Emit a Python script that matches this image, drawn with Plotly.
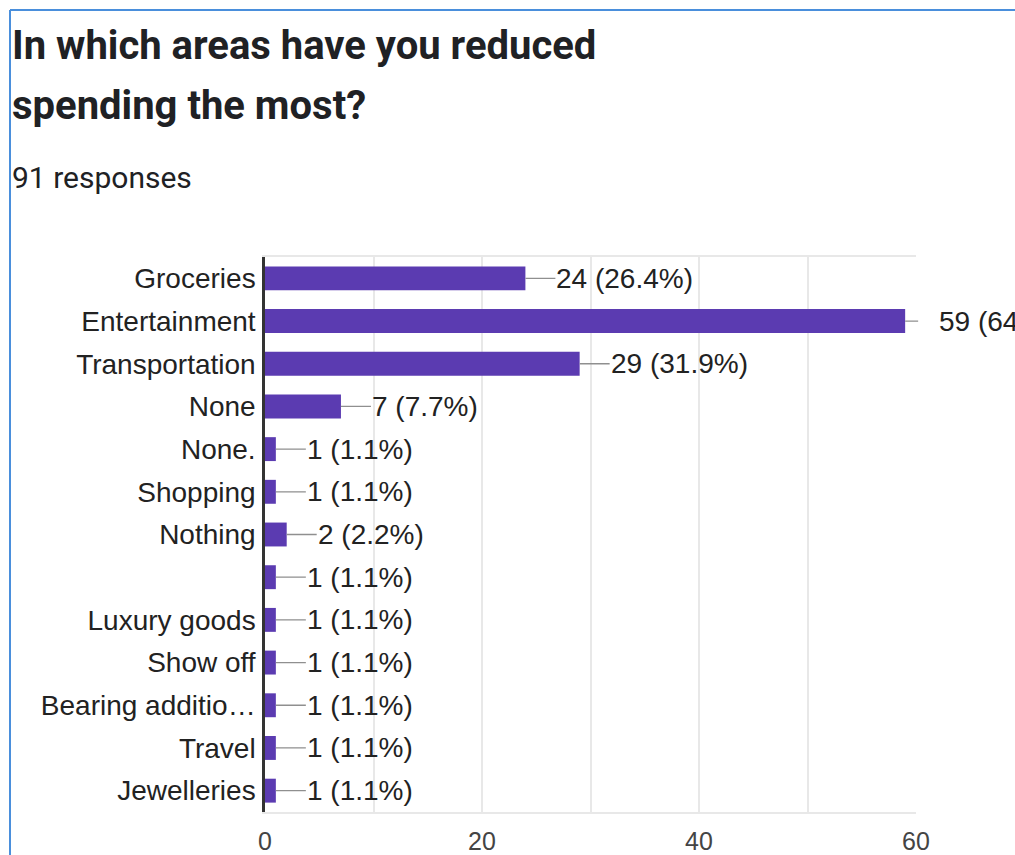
import plotly.graph_objects as go

categories = ["Groceries", "Entertainment", "Transportation", "None", "None.", "Shopping",
              "Nothing", " ", "Luxury goods", "Show off", "Bearing additio…", "Travel", "Jewelleries"]
counts = [24, 59, 29, 7, 1, 1, 2, 1, 1, 1, 1, 1, 1]
total_responses = 91
x_ticks = [0, 20, 40, 60]

title_lines = ["In which areas have you reduced", "spending the most?"]
subtitle_text = f"{total_responses} responses"

W, H = 1015, 855
L, R, T, B = 265, 99, 257, 43
PW, PH = W - L - R, H - T - B


def px_x(px):
    return (px - L) / PW


def px_y(py):
    return (H - B - py) / PH


BAR = "#5b3bb1"
LABEL_FONT = "Liberation Sans, Arial, sans-serif"

fig = go.Figure()
fig.add_trace(go.Bar(
    x=counts, y=categories, orientation="h",
    marker=dict(color=BAR, line=dict(width=0)),
    width=0.56, hoverinfo="skip",
))

max_v = max(counts)
for c, v in zip(categories, counts):
    pct = v / total_responses * 100
    is_max = v == max_v
    fig.add_annotation(
        x=v, y=c, xref="x", yref="y",
        text=f"{v} ({pct:.1f}%)",
        showarrow=True, arrowhead=0, arrowwidth=1.3, arrowcolor="#8f8f8f",
        ax=33 if is_max else 30, ay=0, axref="pixel", ayref="pixel",
        startstandoff=20 if is_max else 0,
        xanchor="left", yanchor="middle",
        font=dict(family=LABEL_FONT, size=28, color="#222222"),
        borderpad=0,
    )

# title & subtitle
for i, (line, ytop) in enumerate(zip(title_lines, [20, 80])):
    fig.add_annotation(
        x=px_x(10), y=px_y(ytop), xref="paper", yref="paper",
        text=f"<b>{line}</b>", showarrow=False, xanchor="left", yanchor="top",
        align="left", font=dict(family="Roboto, Arial, sans-serif", size=40, color="#202124"),
    )
fig.add_annotation(
    x=px_x(10), y=px_y(158), xref="paper", yref="paper",
    text=subtitle_text, showarrow=False, xanchor="left", yanchor="top",
    align="left", font=dict(family="Roboto, Arial, sans-serif", size=30, color="#202124"),
)

# screenshot frame (blue)
fig.add_shape(type="line", xref="paper", yref="paper",
              x0=px_x(10), x1=px_x(W + 5), y0=px_y(10), y1=px_y(10),
              line=dict(color="#4a8fdc", width=2))
fig.add_shape(type="line", xref="paper", yref="paper",
              x0=px_x(10), x1=px_x(10), y0=px_y(10), y1=px_y(H + 5),
              line=dict(color="#4a8fdc", width=2))

fig.update_layout(
    width=W, height=H,
    margin=dict(l=L, r=R, t=T, b=B, pad=0, autoexpand=False),
    paper_bgcolor="white", plot_bgcolor="white",
    showlegend=False,
    bargap=0.44,
    xaxis=dict(
        range=[0, 60], tickvals=x_ticks, ticktext=[str(t) for t in x_ticks],
        showgrid=True, gridcolor="#e8e8e8", gridwidth=1.5,
        minor=dict(dtick=10, showgrid=True, gridcolor="#e8e8e8", gridwidth=1.5),
        showline=True, linecolor="#e8e8e8", linewidth=1.5, mirror=True,
        zeroline=False, ticks="", ticklabelstandoff=6, automargin=False,
        tickfont=dict(family=LABEL_FONT, size=25, color="#444444"),
        fixedrange=True,
    ),
    yaxis=dict(
        categoryorder="array", categoryarray=categories, autorange="reversed",
        showline=True, linecolor="#333333", linewidth=2.5, automargin=False,
        showgrid=False, zeroline=False, ticks="", ticklabelstandoff=1,
        tickfont=dict(family=LABEL_FONT, size=28, color="#222222"),
        fixedrange=True,
    ),
)

fig.write_html("out.html", config={"displayModeBar": False},
               post_script="document.body.style.margin='0';document.body.style.overflow='hidden';")
